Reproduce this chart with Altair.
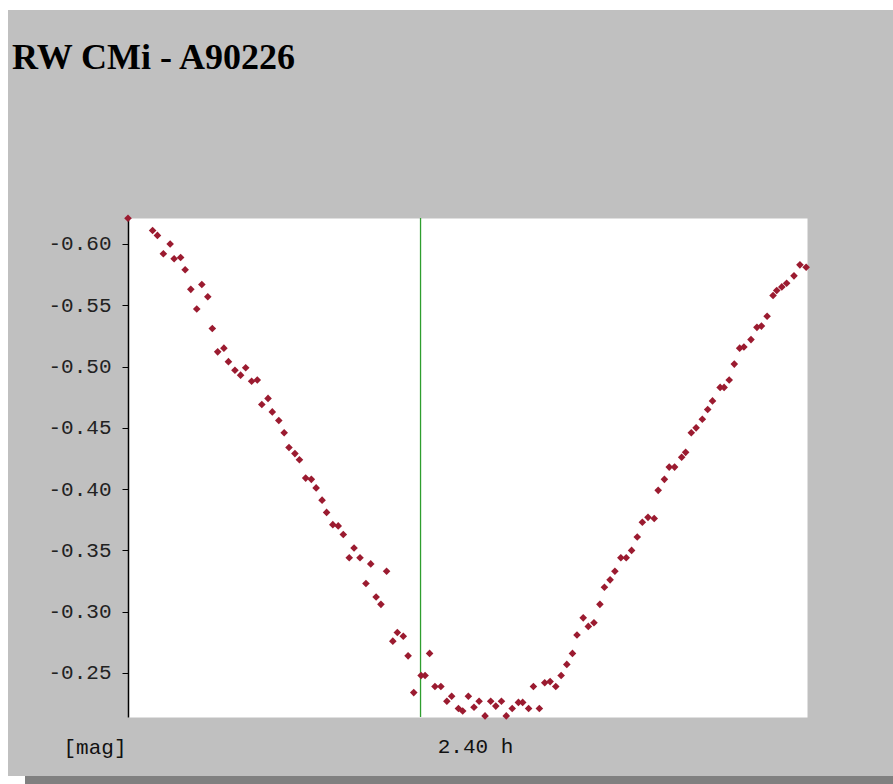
import altair as alt
import pandas as pd

# Light curve of RW CMi, night A90226: time in hours, differential magnitude
hours = [
    0.000, 0.087, 0.104, 0.125, 0.149, 0.163, 0.186, 0.202, 0.222, 0.243,
    0.261, 0.282, 0.298, 0.317, 0.339, 0.355, 0.378, 0.398, 0.416, 0.437,
    0.457, 0.473, 0.495, 0.510, 0.533, 0.552, 0.569, 0.590, 0.606, 0.628,
    0.648, 0.665, 0.686, 0.702, 0.724, 0.743, 0.761, 0.782, 0.799, 0.820,
    0.841, 0.858, 0.877, 0.894, 0.914, 0.936, 0.952, 0.973, 0.990, 1.010,
    1.036, 1.050, 1.066, 1.085, 1.106, 1.127, 1.144, 1.168, 1.183, 1.203,
    1.223, 1.241, 1.262, 1.282, 1.300, 1.320, 1.337, 1.358, 1.380, 1.395,
    1.416, 1.433, 1.454, 1.473, 1.492, 1.512, 1.531, 1.551, 1.571, 1.587,
    1.609, 1.627, 1.647, 1.668, 1.684, 1.704, 1.721, 1.742, 1.761, 1.780,
    1.800, 1.818, 1.838, 1.860, 1.874, 1.896, 1.913, 1.932, 1.957, 1.971,
    1.991, 2.008, 2.030, 2.049, 2.066, 2.093, 2.107, 2.125, 2.143, 2.162,
    2.177, 2.202, 2.223, 2.239, 2.259, 2.280, 2.293, 2.311, 2.328, 2.354,
    2.375, 2.397,
]
magnitudes = [
    -0.621, -0.611, -0.607, -0.592, -0.600, -0.588, -0.589, -0.579, -0.563, -0.547,
    -0.567, -0.557, -0.531, -0.512, -0.515, -0.504, -0.497, -0.493, -0.499, -0.488,
    -0.489, -0.469, -0.474, -0.463, -0.456, -0.446, -0.434, -0.429, -0.424, -0.409,
    -0.408, -0.401, -0.391, -0.381, -0.371, -0.370, -0.363, -0.344, -0.352, -0.344,
    -0.323, -0.339, -0.312, -0.306, -0.333, -0.276, -0.283, -0.280, -0.264, -0.234,
    -0.248, -0.248, -0.266, -0.239, -0.239, -0.227, -0.231, -0.221, -0.219, -0.231,
    -0.222, -0.227, -0.215, -0.227, -0.223, -0.227, -0.215, -0.221, -0.226, -0.226,
    -0.221, -0.239, -0.221, -0.242, -0.243, -0.239, -0.248, -0.257, -0.266, -0.281,
    -0.295, -0.288, -0.291, -0.306, -0.320, -0.326, -0.333, -0.344, -0.344, -0.350,
    -0.361, -0.373, -0.377, -0.376, -0.399, -0.408, -0.418, -0.418, -0.426, -0.430,
    -0.446, -0.450, -0.457, -0.465, -0.472, -0.483, -0.483, -0.489, -0.502, -0.515,
    -0.516, -0.522, -0.532, -0.533, -0.541, -0.558, -0.562, -0.565, -0.568, -0.574,
    -0.583, -0.581,
]
marker_hours = [1.034]          # green marker line
span_label = "2.40 h"
mag_ticks = [-0.60, -0.55, -0.50, -0.45, -0.40, -0.35, -0.30, -0.25]
title_text = "RW CMi - A90226"

points = pd.DataFrame({"t": hours, "mag": magnitudes})
marker = pd.DataFrame({"t": marker_hours})
one = pd.DataFrame({"k": [0]})

W, H = 679, 499
x_scale = alt.Scale(domain=[0, 2.40], nice=False, zero=False)
y_scale = alt.Scale(domain=[-0.6212, -0.2141], reverse=True, nice=False, zero=False)

mono = "Liberation Mono"
fs = 21

x_enc = alt.X(
    "t:Q", scale=x_scale,
    axis=alt.Axis(
        title=span_label, labels=False, ticks=False, domain=False, grid=False,
        titleFont=mono, titleFontSize=fs, titleFontWeight="normal", titleColor="#111",
        titleAlign="center", titleBaseline="alphabetic", titleX=347, titleY=35,
    ),
)
y_enc = alt.Y(
    "mag:Q", scale=y_scale,
    axis=alt.Axis(
        values=mag_ticks,
        labelExpr="replace(format(datum.value, '.2f'), '\u2212', '-')",
        tickSize=6, tickColor="black", domainColor="black", domainWidth=1.5,
        labelFont=mono, labelFontSize=fs, labelColor="#222", labelPadding=11,
        grid=False,
        title="[mag]", titleAngle=0, titleAlign="right", titleBaseline="alphabetic",
        titleX=-2, titleY=535, titleFont=mono, titleFontSize=fs,
        titleFontWeight="normal", titleColor="#111",
    ),
)

# panel framing: white margin on top/left, drop shadow along the bottom
def band(color, x0, x1, y0, y1):
    return alt.Chart(one).mark_rect(color=color).encode(
        x=alt.value(x0), x2=alt.value(x1), y=alt.value(y0), y2=alt.value(y1)
    )

frame = (
    band("white", -128, 765, -218, -208)
    + band("white", -128, -120, -218, 566)
    + band("white", -128, -103, 558, 566)
    + band("#808080", -103, 765, 558, 566)
)

title = alt.Chart(one).mark_text(
    text=title_text, font="Liberation Serif", fontSize=36, fontWeight="bold",
    color="black", align="left", baseline="alphabetic",
).encode(x=alt.value(-116), y=alt.value(-149))

rule = alt.Chart(marker).mark_rule(color="#2f9e2f", strokeWidth=1.3).encode(x=x_enc)

dots = alt.Chart(points).mark_point(
    shape="diamond", filled=True, size=58, color="#9b1b30", opacity=1
).encode(x=x_enc, y=y_enc)

chart = (
    alt.layer(frame, rule, dots, title)
    .properties(
        width=W, height=H,
        padding={"left": 128, "top": 218, "right": 86, "bottom": 67},
        autosize=alt.AutoSizeParams(type="none"),
        background="#c0c0c0",
    )
    .configure_view(fill="white", stroke="transparent")
)

chart.save("out.html", embed_options={"renderer": "svg", "actions": False})
